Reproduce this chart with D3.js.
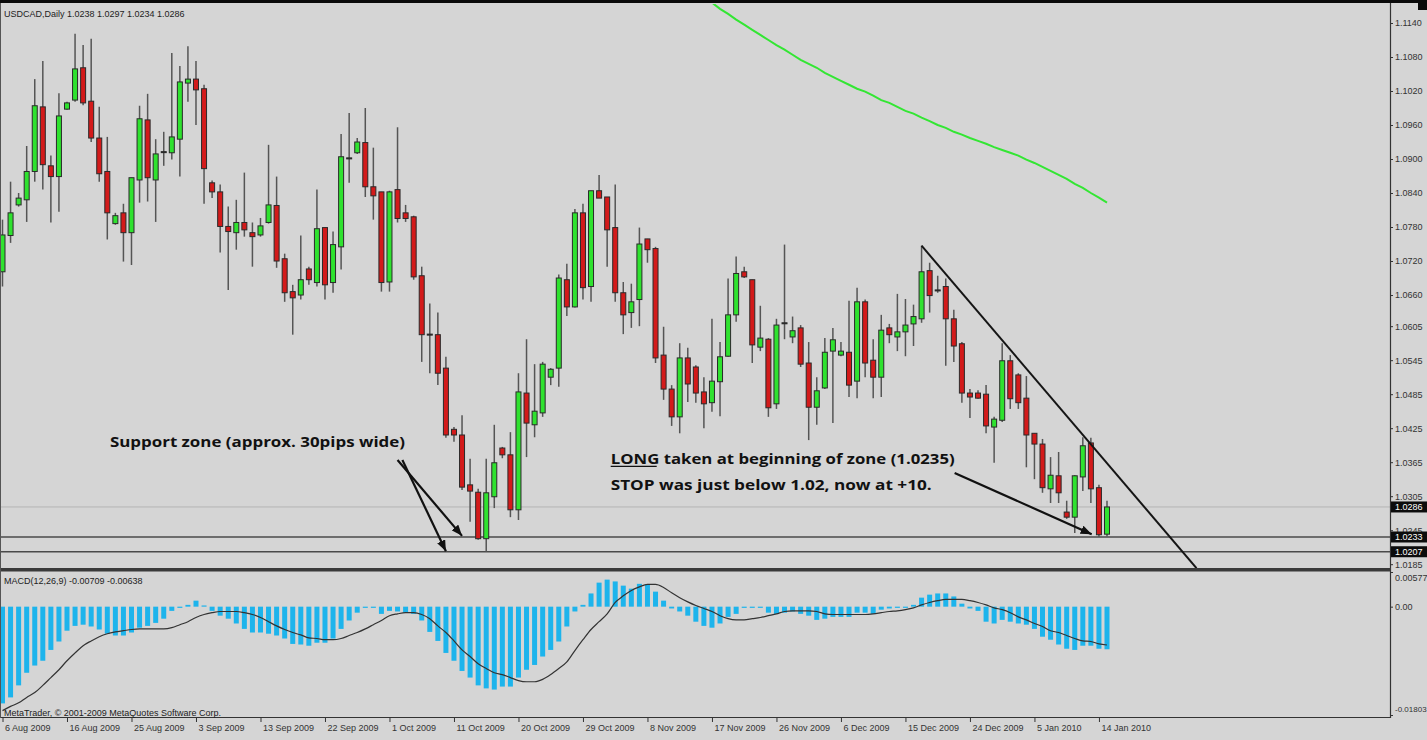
<!DOCTYPE html>
<html><head><meta charset="utf-8">
<script src="https://cdn.jsdelivr.net/npm/d3@7"></script>
<style>html,body{margin:0;padding:0;background:#d5d5d5;}svg{display:block}</style>
</head><body><svg id="c" width="1427" height="740"></svg>
<script>
// ---------- DATA ----------
const symbolTitle = "USDCAD,Daily";
const lastBar = [1.0238, 1.0297, 1.0234, 1.0286];
const dateLabels = ["6 Aug 2009","16 Aug 2009","25 Aug 2009","3 Sep 2009","13 Sep 2009","22 Sep 2009","1 Oct 2009","11 Oct 2009","20 Oct 2009","29 Oct 2009","8 Nov 2009","17 Nov 2009","26 Nov 2009","6 Dec 2009","15 Dec 2009","24 Dec 2009","5 Jan 2010","14 Jan 2010"];
const dateTickBars = [0,8,16,24,32,40,48,56,64,72,80,88,96,104,112,120,128,136];
const priceTicks = [1.1140,1.1080,1.1020,1.0960,1.0900,1.0840,1.0780,1.0720,1.0660,1.0605,1.0545,1.0485,1.0425,1.0365,1.0305,1.0245,1.0185];
const markedPrices = [1.0286,1.0233,1.0207];
const supportLines = [1.0233,1.0207];
const bidLine = 1.0286;
const macdTicks = [0.00577,0,-0.01803];
const macdTickLabels = ["0.00577","0.00","-0.01803"];

const open = [1.0701,1.0765,1.0819,1.0828,1.0878,1.0992,1.0888,1.0869,1.0988,1.1004,
1.1061,1.1002,1.0937,1.0878,1.0786,1.0805,1.0770,1.0863,1.0969,1.0863,
1.0913,1.0911,1.0935,1.1034,1.1041,1.1024,1.0858,1.0842,1.0781,1.0770,
1.0788,1.0770,1.0766,1.0788,1.0818,1.0724,1.0666,1.0660,1.0706,1.0682,
1.0779,1.0682,1.0745,1.0902,1.0911,1.0929,1.0851,1.0842,1.0683,1.0846,
1.0805,1.0798,1.0694,1.0591,1.0590,1.0531,1.0423,1.0413,1.0325,1.0312,
1.0230,1.0304,1.0390,1.0378,1.0281,1.0487,1.0431,1.0452,1.0515,1.0531,
1.0687,1.0639,1.0805,1.0675,1.0844,1.0833,1.0779,1.0664,1.0629,1.0652,
1.0759,1.0742,1.0554,1.0494,1.0445,1.0549,1.0533,1.0489,1.0470,1.0507,
1.0552,1.0625,1.0701,1.0687,1.0568,1.0582,1.0468,1.0611,1.0586,1.0602,
1.0540,1.0462,1.0496,1.0561,1.0554,1.0559,1.0508,1.0648,1.0545,1.0515,
1.0602,1.0586,1.0595,1.0609,1.0618,1.0703,1.0669,1.0675,1.0618,1.0574,
1.0487,1.0487,1.0485,1.0427,1.0439,1.0544,1.0519,1.0478,1.0416,1.0397,
1.0318,1.0341,1.0277,1.0268,1.0339,1.0399,1.0320,1.0238];
const high = [1.0793,1.0860,1.0840,1.0923,1.1041,1.1073,1.0906,1.1016,1.1001,1.1121,
1.1101,1.1112,1.0992,1.0939,1.0805,1.0821,1.0867,1.0994,1.1015,1.0935,
1.0948,1.1087,1.1064,1.1099,1.1073,1.1031,1.0862,1.0855,1.0816,1.0828,
1.0876,1.0788,1.0796,1.0925,1.0869,1.0733,1.0678,1.0765,1.0710,1.0846,
1.0779,1.0772,1.0944,1.0981,1.0937,1.0990,1.0920,1.0842,1.0844,1.0956,
1.0819,1.0800,1.0710,1.0645,1.0629,1.0551,1.0427,1.0448,1.0371,1.0318,
1.0371,1.0431,1.0392,1.0418,1.0522,1.0582,1.0538,1.0542,1.0531,1.0696,
1.0715,1.0812,1.0821,1.0844,1.0872,1.0833,1.0855,1.0683,1.0680,1.0779,
1.0759,1.0745,1.0604,1.0501,1.0575,1.0567,1.0536,1.0515,1.0618,1.0577,
1.0689,1.0728,1.0710,1.0687,1.0641,1.0584,1.0618,1.0749,1.0622,1.0607,
1.0577,1.0515,1.0584,1.0602,1.0577,1.0650,1.0673,1.0652,1.0582,1.0625,
1.0609,1.0662,1.0653,1.0643,1.0747,1.0717,1.0694,1.0689,1.0634,1.0577,
1.0494,1.0492,1.0501,1.0445,1.0575,1.0554,1.0522,1.0517,1.0416,1.0406,
1.0374,1.0383,1.0297,1.0342,1.0409,1.0408,1.0325,1.0297];
const low = [1.0675,1.0752,1.0816,1.0789,1.0860,1.0846,1.0788,1.0807,1.0987,1.1001,
1.0995,1.0930,1.0860,1.0758,1.0784,1.0719,1.0713,1.0823,1.0825,1.0789,
1.0888,1.0899,1.0869,1.1001,1.0960,1.0821,1.0831,1.0735,1.0669,1.0740,
1.0763,1.0710,1.0763,1.0786,1.0708,1.0648,1.0590,1.0652,1.0678,1.0675,
1.0652,1.0664,1.0705,1.0858,1.0909,1.0833,1.0793,1.0666,1.0666,1.0788,
1.0789,1.0687,1.0542,1.0522,1.0501,1.0408,1.0401,1.0316,1.0260,1.0228,
1.0207,1.0284,1.0372,1.0268,1.0263,1.0374,1.0409,1.0445,1.0501,1.0498,
1.0623,1.0638,1.0652,1.0648,1.0831,1.0710,1.0648,1.0591,1.0602,1.0605,
1.0717,1.0540,1.0475,1.0429,1.0416,1.0471,1.0470,1.0425,1.0454,1.0446,
1.0551,1.0613,1.0690,1.0540,1.0561,1.0445,1.0459,1.0582,1.0575,1.0533,
1.0404,1.0431,1.0494,1.0434,1.0552,1.0480,1.0478,1.0515,1.0478,1.0480,
1.0575,1.0561,1.0552,1.0570,1.0611,1.0629,1.0664,1.0535,1.0542,1.0470,
1.0443,1.0477,1.0416,1.0364,1.0436,1.0459,1.0459,1.0356,1.0335,1.0311,
1.0293,1.0293,1.0265,1.0240,1.0314,1.0293,1.0233,1.0234];
const close = [1.0766,1.0805,1.0831,1.0878,1.0994,1.0890,1.0869,1.0976,1.0999,1.1059,
1.0999,1.0937,1.0874,1.0805,1.0800,1.0770,1.0867,1.0971,1.0867,1.0909,
1.0913,1.0939,1.1036,1.1041,1.1022,1.0883,1.0842,1.0781,1.0772,1.0788,
1.0775,1.0763,1.0782,1.0819,1.0720,1.0664,1.0655,1.0687,1.0687,1.0777,
1.0678,1.0749,1.0904,1.0902,1.0930,1.0851,1.0835,1.0682,1.0842,1.0795,
1.0795,1.0692,1.0590,1.0591,1.0522,1.0413,1.0413,1.0321,1.0314,1.0230,
1.0311,1.0364,1.0378,1.0281,1.0489,1.0434,1.0455,1.0538,1.0529,1.0690,
1.0639,1.0805,1.0673,1.0844,1.0831,1.0775,1.0664,1.0625,1.0648,1.0750,
1.0740,1.0549,1.0494,1.0445,1.0549,1.0503,1.0487,1.0468,1.0508,1.0551,
1.0625,1.0698,1.0692,1.0572,1.0584,1.0461,1.0607,1.0611,1.0597,1.0538,
1.0462,1.0491,1.0559,1.0581,1.0561,1.0501,1.0648,1.0540,1.0515,1.0598,
1.0590,1.0595,1.0607,1.0622,1.0701,1.0659,1.0669,1.0618,1.0570,1.0487,
1.0480,1.0478,1.0429,1.0441,1.0544,1.0477,1.0470,1.0413,1.0397,1.0320,
1.0342,1.0311,1.0268,1.0341,1.0394,1.0318,1.0237,1.0286];

// moving average (green), visible from bar 88 on
const maStartBar = 88;
const maValues = [1.1176,1.1165,1.1156,1.1146,1.1137,1.1128,1.1119,1.1110,1.1101,1.1093,
1.1084,1.1075,1.1068,1.1061,1.1052,1.1045,1.1038,1.1031,1.1024,1.1019,
1.1012,1.1004,1.0999,1.0992,1.0985,1.0980,1.0973,1.0967,1.0960,1.0955,
1.0948,1.0943,1.0937,1.0932,1.0927,1.0921,1.0916,1.0911,1.0906,1.0899,
1.0893,1.0886,1.0879,1.0872,1.0865,1.0856,1.0849,1.0840,1.0832,1.0823];

const macdMain = [-0.0161,-0.0151,-0.0131,-0.0110,-0.0098,-0.0090,-0.0072,-0.0058,-0.0040,-0.0032,
-0.0030,-0.0033,-0.0038,-0.0045,-0.0048,-0.0048,-0.0043,-0.0035,-0.0032,-0.0027,
-0.0020,-0.0007,-0.0002,0.0003,0.0010,0.0002,-0.0007,-0.0015,-0.0020,-0.0028,
-0.0037,-0.0043,-0.0043,-0.0045,-0.0048,-0.0053,-0.0062,-0.0063,-0.0065,-0.0060,
-0.0060,-0.0053,-0.0037,-0.0023,-0.0010,-0.0002,-0.0002,-0.0012,-0.0007,-0.0008,
-0.0010,-0.0012,-0.0023,-0.0042,-0.0057,-0.0077,-0.0090,-0.0107,-0.0118,-0.0131,
-0.0136,-0.0138,-0.0133,-0.0133,-0.0118,-0.0105,-0.0097,-0.0083,-0.0072,-0.0058,
-0.0033,-0.0008,0.0003,0.0022,0.0040,0.0045,0.0042,0.0035,0.0030,0.0038,
0.0037,0.0025,0.0010,-0.0003,-0.0008,-0.0015,-0.0025,-0.0032,-0.0035,-0.0028,
-0.0017,-0.0012,-0.0002,-0.0002,-0.0002,-0.0010,-0.0012,-0.0010,-0.0008,-0.0012,
-0.0015,-0.0022,-0.0020,-0.0017,-0.0017,-0.0017,-0.0010,-0.0010,-0.0012,-0.0005,
-0.0003,-0.0002,0.0000,0.0003,0.0015,0.0020,0.0022,0.0022,0.0017,0.0005,
-0.0003,-0.0007,-0.0025,-0.0028,-0.0022,-0.0025,-0.0028,-0.0030,-0.0037,-0.0050,
-0.0055,-0.0063,-0.0070,-0.0072,-0.0065,-0.0065,-0.0070,-0.00709];
const macdSignal = [-0.0173,-0.0166,-0.0160,-0.0151,-0.0143,-0.0131,-0.0118,-0.0105,-0.0090,-0.0077,
-0.0065,-0.0057,-0.0050,-0.0045,-0.0042,-0.0040,-0.0038,-0.0037,-0.0037,-0.0037,
-0.0037,-0.0035,-0.0030,-0.0025,-0.0018,-0.0013,-0.0010,-0.0008,-0.0008,-0.0008,
-0.0010,-0.0013,-0.0018,-0.0025,-0.0032,-0.0038,-0.0043,-0.0047,-0.0052,-0.0053,
-0.0055,-0.0055,-0.0053,-0.0048,-0.0043,-0.0037,-0.0030,-0.0023,-0.0015,-0.0012,
-0.0010,-0.0010,-0.0013,-0.0020,-0.0032,-0.0043,-0.0057,-0.0072,-0.0083,-0.0095,
-0.0103,-0.0110,-0.0113,-0.0118,-0.0123,-0.0125,-0.0125,-0.0121,-0.0113,-0.0103,
-0.0092,-0.0073,-0.0055,-0.0038,-0.0025,-0.0012,0.0007,0.0018,0.0027,0.0033,
0.0037,0.0037,0.0032,0.0023,0.0015,0.0008,0.0002,-0.0003,-0.0008,-0.0015,
-0.0020,-0.0022,-0.0022,-0.0020,-0.0018,-0.0015,-0.0012,-0.0008,-0.0007,-0.0007,
-0.0007,-0.0008,-0.0012,-0.0013,-0.0013,-0.0013,-0.0013,-0.0013,-0.0012,-0.0010,
-0.0008,-0.0007,-0.0005,-0.0002,0.0003,0.0007,0.0010,0.0012,0.0012,0.0012,
0.0010,0.0007,0.0003,-0.0002,-0.0005,-0.0010,-0.0017,-0.0022,-0.0028,-0.0033,
-0.0040,-0.0043,-0.0048,-0.0053,-0.0057,-0.0058,-0.0062,-0.00638];

// annotations (bar index, price)
const trendLine = [[114,1.0747],[148.1,1.0178]];
const supportArrows = [[[49.0,1.0369],[57.0,1.0235]],[[49.6,1.0369],[55.0,1.0208]]];
const longArrow = [[118.1,1.0346],[135.1,1.0238]];
const supportText = {bar:13.33, price:1.0392, text:"Support zone (approx. 30pips wide)", len:295};
const longText1 = {bar:75.44, price:1.0362, lead:"LONG", text:" taken at beginning of zone (1.0235)", len:344};
const longText2 = {bar:75.44, price:1.0316, text:"STOP was just below 1.02, now at +10.", len:321};

// ---------- DRAW ----------
const GREEN="#2fe22f", RED="#d31a1a", BG="#d5d5d5";
const RIGHT=1390;
const svg=d3.select("#c");
const x=d3.scaleLinear().domain([0,137]).range([2.5,1107]);
const y=d3.scaleLinear().domain([1.0185,1.1140]).range([564.2,23]);
const ym=d3.scaleLinear().domain([-0.01803,0.00577]).range([715,572]);
const idx=d3.range(open.length);

svg.append("rect").attr("width",1427).attr("height",740).attr("fill",BG);
const defs=svg.append("defs");
defs.append("clipPath").attr("id","cm").append("rect").attr("x",0).attr("y",4).attr("width",RIGHT).attr("height",564);
defs.append("clipPath").attr("id","cd").append("rect").attr("x",0).attr("y",572).attr("width",RIGHT).attr("height",145);
defs.append("marker").attr("id","ah").attr("viewBox","0 0 10 8").attr("refX",10).attr("refY",4)
  .attr("markerWidth",11).attr("markerHeight",9).attr("markerUnits","userSpaceOnUse").attr("orient","auto")
  .append("path").attr("d","M0,0L10,4L0,8Z").attr("fill","#111");

const gm=svg.append("g").attr("clip-path","url(#cm)");
// bid line + support lines
gm.append("line").attr("x1",0).attr("x2",RIGHT).attr("y1",y(bidLine)).attr("y2",y(bidLine)).attr("stroke","#b4b4b4").attr("stroke-width",1);
gm.selectAll("line.sup").data(supportLines).join("line").attr("class","sup")
  .attr("x1",0).attr("x2",RIGHT).attr("y1",d=>y(d)).attr("y2",d=>y(d)).attr("stroke","#4a4a4a").attr("stroke-width",1.3);
// wicks
gm.selectAll("line.wick").data(idx).join("line").attr("class","wick")
  .attr("x1",i=>x(i)).attr("x2",i=>x(i)).attr("y1",i=>y(high[i])).attr("y2",i=>y(low[i]))
  .attr("stroke","#555").attr("stroke-width",1.5);
// bodies
gm.selectAll("rect.body").data(idx).join("rect").attr("class","body")
  .attr("x",i=>x(i)-2.5).attr("width",5)
  .attr("y",i=>y(Math.max(open[i],close[i])))
  .attr("height",i=>Math.max(1,Math.abs(y(open[i])-y(close[i]))))
  .attr("fill",i=>close[i]>open[i]?GREEN:(close[i]<open[i]?RED:"#333"))
  .attr("stroke","#2a2a2a").attr("stroke-width",1);
// MA line
gm.append("path").datum(maValues).attr("fill","none").attr("stroke","#33e633").attr("stroke-width",2)
  .attr("d",d3.line().x((d,k)=>x(maStartBar+k)).y(d=>y(d)));
// trend line
gm.append("line").attr("x1",x(trendLine[0][0])).attr("y1",y(trendLine[0][1])).attr("x2",x(trendLine[1][0])).attr("y2",y(trendLine[1][1]))
  .attr("stroke","#151515").attr("stroke-width",2);
// arrows
[...supportArrows,longArrow].forEach(a=>{
  svg.append("line").attr("x1",x(a[0][0])).attr("y1",y(a[0][1])).attr("x2",x(a[1][0])).attr("y2",y(a[1][1]))
    .attr("stroke","#111").attr("stroke-width",2.2).attr("marker-end","url(#ah)");
});
// annotation text
const AF="'Open Sans','Liberation Sans',sans-serif";
svg.append("text").attr("x",x(supportText.bar)).attr("y",y(supportText.price)).attr("font-family",AF).attr("font-weight",700)
  .attr("font-size",15).attr("fill","#111").attr("textLength",supportText.len).attr("lengthAdjust","spacingAndGlyphs").text(supportText.text);
const t1=svg.append("text").attr("x",x(longText1.bar)).attr("y",y(longText1.price)).attr("font-family",AF).attr("font-weight",700)
  .attr("font-size",15).attr("fill","#111").attr("textLength",longText1.len).attr("lengthAdjust","spacingAndGlyphs");
t1.append("tspan").text(longText1.lead);
t1.append("tspan").text(longText1.text);
svg.append("text").attr("x",x(longText2.bar)).attr("y",y(longText2.price)).attr("font-family",AF).attr("font-weight",700)
  .attr("font-size",15).attr("fill","#111").attr("textLength",longText2.len).attr("lengthAdjust","spacingAndGlyphs").text(longText2.text);
{
  const lx=x(longText1.bar), ly=y(longText1.price)+2.5;
  svg.append("line").attr("x1",lx).attr("x2",lx+46).attr("y1",ly).attr("y2",ly).attr("stroke","#111").attr("stroke-width",1.4);
}

// MACD panel
const gd=svg.append("g").attr("clip-path","url(#cd)");
gd.selectAll("rect.h").data(idx).join("rect").attr("class","h")
  .attr("x",i=>x(i)-2.5).attr("width",5)
  .attr("y",i=>Math.min(ym(0),ym(macdMain[i])))
  .attr("height",i=>Math.max(1.2,Math.abs(ym(macdMain[i])-ym(0))))
  .attr("fill","#1db4ec");
gd.append("path").datum(macdSignal).attr("fill","none").attr("stroke","#333").attr("stroke-width",1.2)
  .attr("d",d3.line().x((d,k)=>x(k)).y(d=>ym(d)).curve(d3.curveMonotoneX));

// Borders
svg.append("rect").attr("x",0).attr("y",0).attr("width",1427).attr("height",3).attr("fill","#0a0a0a");
svg.append("rect").attr("x",1418).attr("y",0).attr("width",9).attr("height",10).attr("fill","#0a0a0a");
svg.append("line").attr("x1",RIGHT+0.5).attr("x2",RIGHT+0.5).attr("y1",3).attr("y2",718).attr("stroke","#333").attr("stroke-width",1.2);
svg.append("rect").attr("x",0).attr("y",568).attr("width",RIGHT+1).attr("height",3.5).attr("fill","#3a3a3a");
svg.append("line").attr("x1",0).attr("x2",RIGHT+1).attr("y1",717.5).attr("y2",717.5).attr("stroke","#333").attr("stroke-width",1.2);
svg.append("line").attr("x1",0.5).attr("x2",0.5).attr("y1",3).attr("y2",718).attr("stroke","#555").attr("stroke-width",1);

// Price axis
const LF="'Liberation Sans',Arial,sans-serif";
const pa=svg.append("g").attr("transform",`translate(${RIGHT},0)`)
  .call(d3.axisRight(y).tickValues(priceTicks).tickSize(3).tickPadding(2).tickFormat(d=>d.toFixed(4)));
pa.select(".domain").remove();
pa.selectAll("text").attr("font-family",LF).attr("font-size",9).attr("fill","#333");
pa.selectAll("line").attr("stroke","#333");
// marked price boxes
const mk=svg.selectAll("g.mk").data(markedPrices).join("g").attr("class","mk").attr("transform",d=>`translate(${RIGHT+1},${y(d)})`);
mk.append("rect").attr("x",0).attr("y",-5.5).attr("width",37).attr("height",11).attr("fill","#0c0c0c");
mk.append("text").attr("x",4).attr("y",3.3).attr("font-family",LF).attr("font-size",9).attr("fill","#fff").text(d=>d.toFixed(4));

// MACD axis
const ma=svg.append("g").attr("transform",`translate(${RIGHT},0)`)
  .call(d3.axisRight(ym).tickValues(macdTicks).tickSize(3).tickPadding(2).tickFormat((d,k)=>macdTickLabels[k]));
ma.select(".domain").remove();
ma.selectAll("text").attr("font-family",LF).attr("font-size",(d,k)=>k===2?8:9).attr("fill","#333")
  .attr("dy",(d,k)=>k===0?"0.95em":(k===2?"-0.45em":"0.32em"));
ma.selectAll("line").attr("stroke","#333");

// Date axis
const da=svg.append("g").attr("transform","translate(0,718)")
  .call(d3.axisBottom(x).tickValues(dateTickBars).tickSize(4).tickPadding(3).tickFormat((d,k)=>dateLabels[k]));
da.select(".domain").remove();
da.selectAll("text").attr("font-family",LF).attr("font-size",9).attr("fill","#333").attr("text-anchor","start").attr("x",2);
da.selectAll("line").attr("stroke","#333");

// Header labels
svg.append("text").attr("x",4).attr("y",17).attr("font-family",LF).attr("font-size",9).attr("fill","#222")
  .text(symbolTitle+"  "+lastBar.map(v=>v.toFixed(4)).join(" "));
svg.append("text").attr("x",4).attr("y",584).attr("font-family",LF).attr("font-size",9).attr("fill","#222")
  .text("MACD(12,26,9) "+macdMain[macdMain.length-1].toFixed(5)+" "+macdSignal[macdSignal.length-1].toFixed(5));
svg.append("text").attr("x",4).attr("y",716).attr("font-family",LF).attr("font-size",9).attr("fill","#222")
  .text("MetaTrader, © 2001-2009 MetaQuotes Software Corp.");
</script></body></html>
